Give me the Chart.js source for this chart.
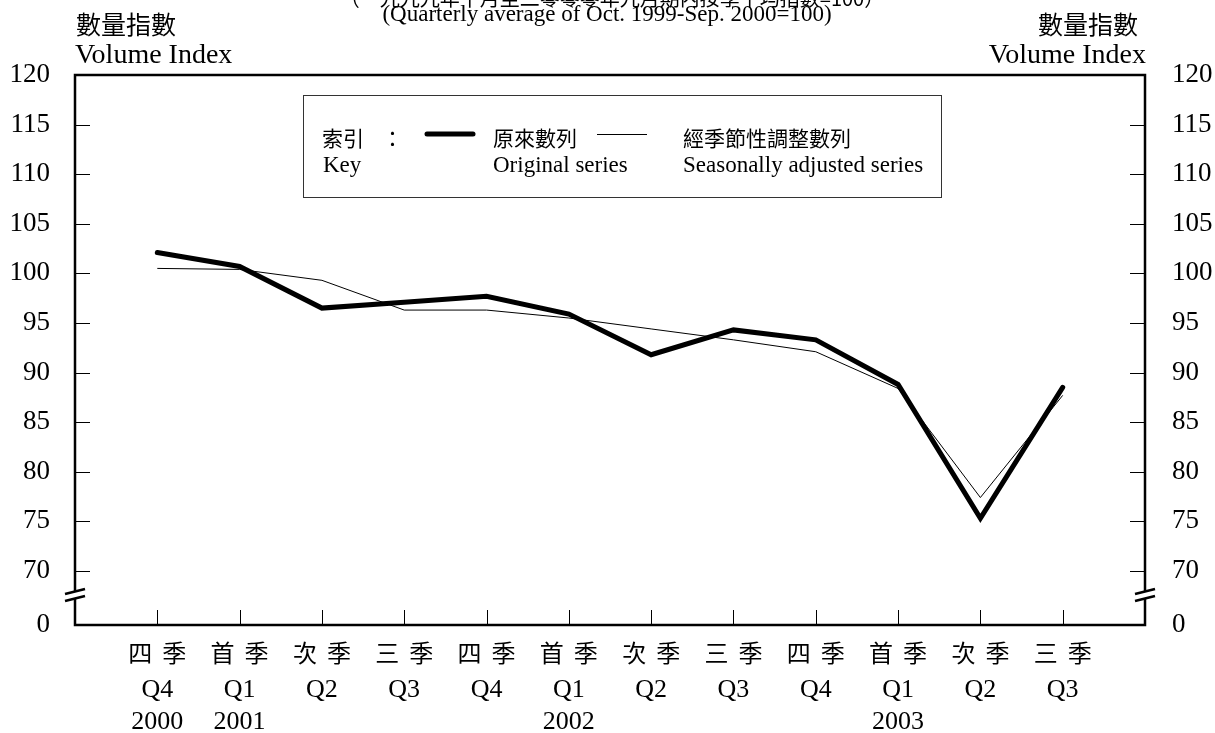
<!DOCTYPE html>
<html><head><meta charset="utf-8">
<script src="https://cdn.jsdelivr.net/npm/chart.js@4"></script>
<style>html,body{margin:0;padding:0;background:#fff;overflow:hidden}#wrap{width:1215px;height:733px;position:relative}</style>
</head><body><div id="wrap"><canvas id="c" width="1215" height="733"></canvas></div>
<script>
// ---- data ----
const quartersZh = ['四 季','首 季','次 季','三 季','四 季','首 季','次 季','三 季','四 季','首 季','次 季','三 季'];
const quartersEn = ['Q4','Q1','Q2','Q3','Q4','Q1','Q2','Q3','Q4','Q1','Q2','Q3'];
const years = ['2000','2001','','','','2002','','','','2003','',''];
const originalSeries = [102.1,100.7,96.5,97.1,97.7,95.9,91.8,94.3,93.3,88.8,75.3,88.5];
const adjustedSeries = [100.5,100.4,99.3,96.3,96.3,95.5,94.4,93.3,92.1,88.4,77.4,87.7];
const yTickValues = [70,75,80,85,90,95,100,105,110,115,120];
const breakTickLabel = '0';
const legendZh = ['索引','：','原來數列','經季節性調整數列'];
const legendEn = ['Key','Original series','Seasonally adjusted series'];
const titleZh = '（一九九九年十月至二零零零年九月期內按季平均指數=100）';
const titleEn = '(Quarterly average of Oct. 1999-Sep. 2000=100)';
const axisTitleZh = '數量指數';
const axisTitleEn = 'Volume Index';

// ---- layout config ----
const BREAK_AT = 64.55;   // where the broken axis "0" sits
const FONT = '"Liberation Serif","Noto Sans CJK TC",serif';
const CJK = '"Noto Sans CJK TC","Liberation Serif",sans-serif';

const yTicksBuild = s => { s.ticks = [{value: BREAK_AT}].concat(yTickValues.map(v => ({value: v}))); };
const yTickCb = v => (v === BREAK_AT ? breakTickLabel : String(v));

const deco = {
  id: 'deco',
  afterDraw(chart) {
    const ctx = chart.ctx, a = chart.chartArea, ys = chart.scales.y, xs = chart.scales.x;
    const line = (x1, y1, x2, y2) => { ctx.beginPath(); ctx.moveTo(x1, y1); ctx.lineTo(x2, y2); ctx.stroke(); };
    ctx.save();
    ctx.strokeStyle = '#000'; ctx.fillStyle = '#000';
    ctx.lineWidth = 1;
    yTickValues.forEach(v => {
      const p = Math.round(ys.getPixelForValue(v)) + 0.5;
      line(a.left, p, a.left + 15, p);
      line(a.right - 15, p, a.right, p);
    });
    quartersEn.forEach((q, i) => {
      const p = Math.round(xs.getPixelForValue(i)) + 0.5;
      line(p, a.bottom, p, a.bottom - 15);
    });
    // frame
    ctx.lineWidth = 2.5;
    ctx.strokeRect(a.left, a.top, a.right - a.left, a.bottom - a.top);
    // axis breaks
    const yc = (ys.getPixelForValue(70) + ys.getPixelForValue(BREAK_AT)) / 2 - 3;
    [a.left, a.right].forEach(x => {
      ctx.fillStyle = '#fff';
      ctx.fillRect(x - 3, yc - 3.5, 6, 7);
      ctx.lineWidth = 2.5;
      line(x - 10, yc - 1, x + 10, yc - 6);
      line(x - 10, yc + 6, x + 10, yc + 1);
    });
    ctx.fillStyle = '#000';
    ctx.textBaseline = 'middle';
    // Chinese quarter labels under the axis (characters spread apart)
    ctx.textAlign = 'center';
    ctx.font = '24px ' + CJK;
    quartersZh.forEach((t, i) => {
      const px = xs.getPixelForValue(i);
      const parts = t.split(' ');
      ctx.fillText(parts[0], px - 17, 653);
      ctx.fillText(parts[1], px + 17, 653);
    });
    // titles
    ctx.font = '20px ' + CJK;
    ctx.fillText(titleZh, 612, -2);
    ctx.font = '23px ' + FONT;
    ctx.fillText(titleEn, 607, 15);
    ctx.font = '25px ' + CJK;
    ctx.textAlign = 'left';
    ctx.fillText(axisTitleZh, 76, 24);
    ctx.textAlign = 'right';
    ctx.fillText(axisTitleZh, 1138, 24);
    ctx.font = '28px ' + FONT;
    ctx.textAlign = 'left';
    ctx.fillText(axisTitleEn, 75, 56);
    ctx.textAlign = 'right';
    ctx.fillText(axisTitleEn, 1146, 56);
    // legend box
    ctx.lineWidth = 1; ctx.strokeStyle = '#333';
    ctx.strokeRect(303.5, 95.5, 638, 102);
    ctx.strokeStyle = '#000';
    ctx.lineCap = 'round';
    ctx.lineWidth = 5; line(427, 134, 473, 134);
    ctx.lineWidth = 1; ctx.lineCap = 'butt'; line(597, 134.5, 647, 134.5);
    ctx.textAlign = 'left';
    ctx.font = '21px ' + CJK;
    ctx.fillText(legendZh[0], 322, 138);
    ctx.fillText(legendZh[1], 382, 138);
    ctx.fillText(legendZh[2], 493, 138);
    ctx.fillText(legendZh[3], 683, 138);
    ctx.font = '23px ' + FONT;
    ctx.fillText(legendEn[0], 323, 166);
    ctx.fillText(legendEn[1], 493, 166);
    ctx.fillText(legendEn[2], 683, 166);
    ctx.restore();
  }
};

const yCommon = {
  type: 'linear', min: BREAK_AT, max: 120,
  afterBuildTicks: yTicksBuild,
  grid: {display: false}, border: {display: false},
  ticks: {callback: yTickCb, color: '#000', font: {family: FONT, size: 27}, autoSkip: false}
};

new Chart(document.getElementById('c'), {
  type: 'line',
  data: {
    datasets: [
      {label: 'Original series', data: originalSeries.map((v, i) => ({x: i, y: v})),
       borderColor: '#000', borderWidth: 5, pointRadius: 0, tension: 0, borderCapStyle: 'round', yAxisID: 'y'},
      {label: 'Seasonally adjusted series', data: adjustedSeries.map((v, i) => ({x: i, y: v})),
       borderColor: '#000', borderWidth: 1, pointRadius: 0, tension: 0, yAxisID: 'y'}
    ]
  },
  options: {
    responsive: false, animation: false, devicePixelRatio: 1,
    layout: {padding: {top: 75, left: 0, right: 0, bottom: 0}},
    plugins: {legend: {display: false}, tooltip: {enabled: false}},
    scales: {
      x: {
        type: 'linear', min: -1, max: 12,
        afterBuildTicks: s => { s.ticks = quartersEn.map((q, i) => ({value: i})); },
        afterFit: s => { s.height = 108; },
        grid: {display: false}, border: {display: false},
        ticks: {
          autoSkip: false, maxRotation: 0, color: '#000', padding: 41,
          font: {family: FONT, size: 26, lineHeight: 1.24},
          callback: v => [quartersEn[v], years[v]]
        }
      },
      y: Object.assign({}, yCommon, {position: 'left', afterFit: s => { s.width = 75; },
        ticks: Object.assign({}, yCommon.ticks, {padding: 17})}),
      y2: Object.assign({}, yCommon, {position: 'right', afterFit: s => { s.width = 70; },
        ticks: Object.assign({}, yCommon.ticks, {padding: 19})})
    }
  },
  plugins: [deco]
});
</script>
</body></html>
